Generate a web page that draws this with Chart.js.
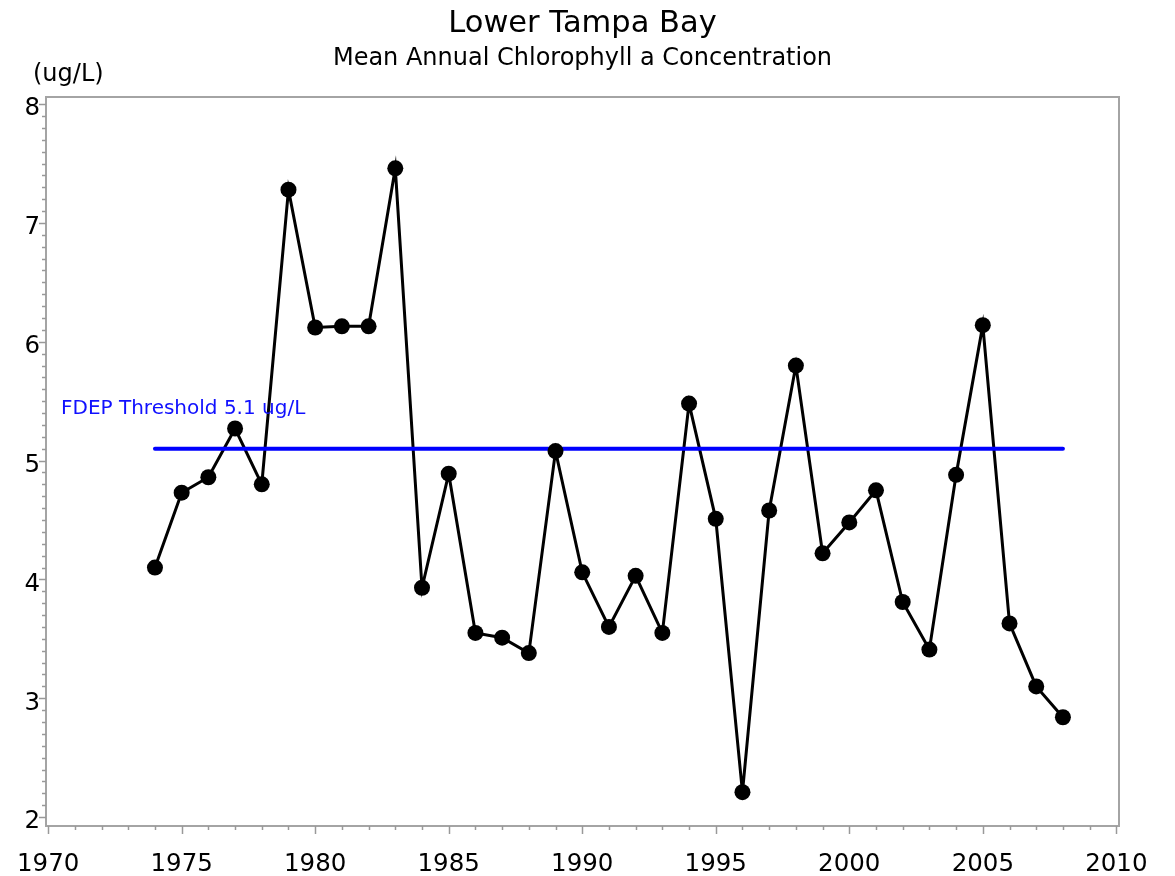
<!DOCTYPE html>
<html>
<head>
<meta charset="utf-8">
<script src="https://cdn.jsdelivr.net/npm/chart.js@4"></script>
<style>
  html, body { margin: 0; padding: 0; background: #fff; }
  #wrap { width: 1175px; height: 876px; }
</style>
</head>
<body>
<div id="wrap"><canvas id="chl-chart" width="1175" height="876"></canvas></div>
<script>
// data
const years = [1974, 1975, 1976, 1977, 1978, 1979, 1980, 1981, 1982, 1983,
  1984, 1985, 1986, 1987, 1988, 1989, 1990, 1991, 1992, 1993,
  1994, 1995, 1996, 1997, 1998, 1999, 2000, 2001, 2002, 2003,
  2004, 2005, 2006, 2007, 2008];
const chlValues = [4.10, 4.73, 4.86, 5.27, 4.80, 7.28, 6.12, 6.13, 6.13, 7.46,
  3.93, 4.89, 3.55, 3.51, 3.38, 5.08, 4.06, 3.60, 4.03, 3.55,
  5.48, 4.51, 2.21, 4.58, 5.80, 4.22, 4.48, 4.75, 3.81, 3.41,
  4.88, 6.14, 3.63, 3.10, 2.84];
const threshold = 5.1;
const xTicks = [1970, 1975, 1980, 1985, 1990, 1995, 2000, 2005, 2010];
const yTicks = [2, 3, 4, 5, 6, 7, 8];

const titleText = 'Lower Tampa Bay';
const subtitleText = 'Mean Annual Chlorophyll a Concentration';
const unitText = '(ug/L)';
const thresholdText = 'FDEP Threshold 5.1 ug/L';

const FONT = "'DejaVu Sans', sans-serif";
const AXIS_GRAY = '#a4a4a4';

const points = years.map((yr, i) => ({ x: yr, y: chlValues[i] }));
const thresholdLine = [
  { x: years[0], y: threshold },
  { x: years[years.length - 1], y: threshold }
];

// titles, frame and tick marks
const decorPlugin = {
  id: 'decor',
  beforeDatasetsDraw(chart) {
    const { ctx, chartArea: a, scales } = chart;
    const xs = scales.x, ys = scales.y;
    ctx.save();
    ctx.strokeStyle = AXIS_GRAY;
    ctx.lineWidth = 2;
    ctx.strokeRect(a.left, a.top, a.right - a.left, a.bottom - a.top);

    // x ticks (every year, longer every 5)
    ctx.lineWidth = 1.5;
    ctx.strokeStyle = '#999';
    for (let yr = xTicks[0]; yr <= xTicks[xTicks.length - 1]; yr++) {
      const px = Math.round(xs.getPixelForValue(yr)) + 0.5;
      const len = yr % 5 === 0 ? 8 : 4;
      ctx.beginPath();
      ctx.moveTo(px, a.bottom);
      ctx.lineTo(px, a.bottom + len);
      ctx.stroke();
    }
    // y ticks (every 0.1, longer every 1)
    for (let i = yTicks[0] * 10; i <= yTicks[yTicks.length - 1] * 10; i++) {
      const py = Math.round(ys.getPixelForValue(i / 10)) + 0.5;
      const len = i % 10 === 0 ? 7 : 4;
      ctx.beginPath();
      ctx.moveTo(a.left, py);
      ctx.lineTo(a.left - len, py);
      ctx.stroke();
    }
    ctx.restore();
  },
  afterDraw(chart) {
    const { ctx, chartArea: a, scales } = chart;
    const cx = (a.left + a.right) / 2;
    ctx.save();
    ctx.fillStyle = '#000';
    ctx.textAlign = 'center';
    ctx.textBaseline = 'alphabetic';
    ctx.font = '30.5px ' + FONT;
    ctx.fillText(titleText, cx, 32);
    ctx.font = '24px ' + FONT;
    ctx.fillText(subtitleText, cx, 65);

    ctx.textAlign = 'left';
    ctx.font = '24px ' + FONT;
    ctx.fillText(unitText, 33, 81);

    // threshold label
    ctx.fillStyle = '#1010ff';
    ctx.font = '20px ' + FONT;
    ctx.fillText(thresholdText, 61, scales.y.getPixelForValue(threshold) - 35);
    ctx.restore();
  }
};

const ctx = document.getElementById('chl-chart').getContext('2d');
new Chart(ctx, {
  type: 'line',
  data: {
    datasets: [
      {
        // connecting line
        data: points,
        borderColor: '#000',
        borderWidth: 3,
        pointRadius: 0,
        tension: 0,
        order: 3
      },
      {
        data: thresholdLine,
        borderColor: '#0000ff',
        borderWidth: 4,
        borderCapStyle: 'round',
        pointRadius: 0,
        order: 2
      },
      {
        // dots on top
        data: points,
        showLine: false,
        pointRadius: 8,
        pointBackgroundColor: '#000',
        pointBorderColor: '#000',
        pointBorderWidth: 0,
        order: 1
      }
    ]
  },
  options: {
    responsive: false,
    animation: false,
    layout: { autoPadding: false, padding: { top: 97, right: 56, left: 0, bottom: 0 } },
    plugins: {
      legend: { display: false },
      title: { display: false },
      tooltip: { enabled: false }
    },
    scales: {
      x: {
        type: 'linear',
        min: 1969.92,
        max: 2010.1,
        afterFit: (s) => {
          s.height = 50;
          // tick padding would otherwise push the plot to the right
          s.paddingLeft = 30;
          s.paddingRight = 30;
        },
        afterBuildTicks: (s) => { s.ticks = xTicks.map(v => ({ value: v })); },
        grid: { display: false, drawTicks: false },
        border: { display: false },
        ticks: {
          padding: 24,
          color: '#000',
          font: { family: FONT, size: 24.5 },
          maxRotation: 0,
          autoSkip: false,
          callback: (v) => String(v)
        }
      },
      y: {
        min: 1.925,
        max: 8.06,
        afterFit: (s) => { s.width = 46; },
        afterBuildTicks: (s) => { s.ticks = yTicks.map(v => ({ value: v })); },
        grid: { display: false, drawTicks: false },
        border: { display: false },
        ticks: {
          padding: 6,
          labelOffset: 5,
          color: '#000',
          font: { family: FONT, size: 24.5 },
          callback: (v) => String(v)
        }
      }
    }
  },
  plugins: [decorPlugin]
});
</script>
</body>
</html>
